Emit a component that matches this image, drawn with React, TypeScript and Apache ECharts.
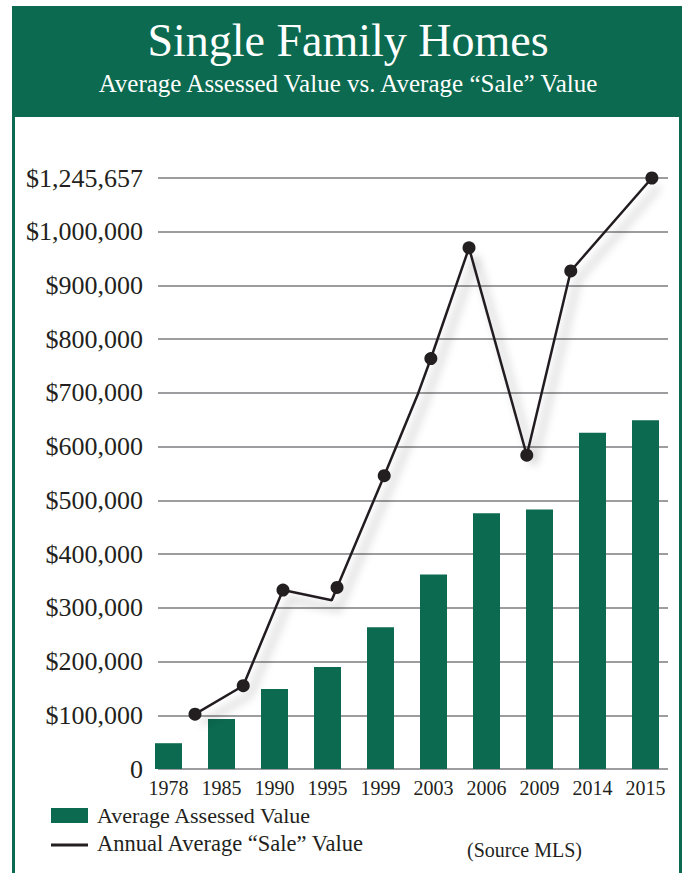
import React, { useEffect, useRef } from "react";
import * as echarts from "echarts";

// ---- data ----
const years = ["1978", "1985", "1990", "1995", "1999", "2003", "2006", "2009", "2014", "2015"];
const assessedValues = [48000, 93000, 149000, 190000, 264000, 362000, 476000, 483000, 626000, 649000];
// Annual average "Sale" value: horizontal slot (in category units) and value
const saleSlots = [0.5, 1.41, 2.16, 3.08, 3.18, 4.07, 4.71, 4.95, 5.67, 6.76, 7.59, 9.12];
const saleValues = [102000, 155000, 333000, 314000, 338000, 546000, 699000, 764000, 970000, 584000, 927000, 1245657];
const saleMarked = [true, true, true, false, true, true, false, true, true, true, true, true];
const topLabelValue = 1245657;

const AXIS_MAX = 1100000;
const AXIS_STEP = 100000;
// the chart compresses the region above $1,000,000 so that the top value sits on the last gridline
const toAxis = (v: number) => (v <= 1000000 ? v : 1000000 + ((v - 1000000) * AXIS_STEP) / (topLabelValue - 1000000));

const GREEN = "#0b6a4f";
const INK = "#231f20";
const SERIF = "'Liberation Serif', 'DejaVu Serif', serif";

export default function App() {
  const ref = useRef<HTMLDivElement>(null);
  useEffect(() => {
    if (!ref.current) return;
    const chart = echarts.init(ref.current, undefined, { renderer: "svg" });
    const fmt = (v: number) => {
      if (v === 0) return "0";
      if (v >= AXIS_MAX) return "$" + topLabelValue.toLocaleString("en-US");
      return "$" + v.toLocaleString("en-US");
    };
    chart.setOption({
      animation: false,
      backgroundColor: "#ffffff",
      textStyle: { fontFamily: SERIF },
      grid: [
        { left: 158, right: 14, top: 178, bottom: 104 },
        { left: 142, right: 10, top: 178, bottom: 104 },
      ],
      xAxis: [
        { gridIndex: 0, type: "value", min: 0, max: 1, show: false },
        {
          gridIndex: 1,
          type: "category",
          data: years,
          axisLine: { show: false },
          axisTick: { show: false },
          splitLine: { show: false },
          axisLabel: { color: INK, fontSize: 20, fontFamily: SERIF, margin: 9, interval: 0 },
        },
        { gridIndex: 1, type: "value", min: -0.5, max: 9.5, show: false },
      ],
      yAxis: [
        {
          gridIndex: 0,
          type: "value",
          min: 0,
          max: AXIS_MAX,
          interval: AXIS_STEP,
          axisLine: { show: false },
          axisTick: { show: false },
          axisLabel: { color: INK, fontSize: 26, fontFamily: SERIF, margin: 15, formatter: fmt },
          splitLine: { show: true, lineStyle: { color: "#9d9d9f", width: 2 } },
        },
        { gridIndex: 1, type: "value", min: 0, max: AXIS_MAX, show: false },
      ],
      series: [
        {
          type: "bar",
          name: "Average Assessed Value",
          xAxisIndex: 1,
          yAxisIndex: 1,
          data: assessedValues,
          barWidth: 27,
          itemStyle: { color: GREEN },
          z: 2,
        },
        {
          type: "line",
          name: "Annual Average \u201cSale\u201d Value",
          xAxisIndex: 2,
          yAxisIndex: 1,
          data: saleSlots.map((s, i) => ({
            value: [s, toAxis(saleValues[i])],
            symbol: saleMarked[i] ? "circle" : "none",
          })),
          symbolSize: 13,
          showAllSymbol: true,
          lineStyle: {
            color: INK,
            width: 2.5,
            shadowColor: "rgba(0,0,0,0.35)",
            shadowBlur: 10,
            shadowOffsetX: 7,
            shadowOffsetY: 9,
          },
          itemStyle: { color: INK, borderWidth: 0 },
          z: 5,
        },
      ],
      graphic: [
        { type: "rect", shape: { x: 12, y: 6, width: 670, height: 111 }, style: { fill: GREEN }, z: 1 },
        { type: "rect", shape: { x: 12, y: 117, width: 3, height: 756 }, style: { fill: GREEN }, z: 1 },
        { type: "rect", shape: { x: 679, y: 117, width: 3, height: 756 }, style: { fill: GREEN }, z: 1 },
        {
          type: "text",
          x: 348,
          y: 40,
          style: {
            text: "Single Family Homes",
            fill: "#ffffff",
            fontSize: 46,
            fontFamily: SERIF,
            textAlign: "center",
            textVerticalAlign: "middle",
          },
          z: 2,
        },
        {
          type: "text",
          x: 348,
          y: 83,
          style: {
            text: "Average Assessed Value vs. Average \u201cSale\u201d Value",
            fill: "#ffffff",
            fontSize: 25,
            fontFamily: SERIF,
            textAlign: "center",
            textVerticalAlign: "middle",
          },
          z: 2,
        },
        { type: "rect", shape: { x: 51, y: 808, width: 37, height: 15 }, style: { fill: GREEN }, z: 2 },
        {
          type: "text",
          x: 97,
          y: 815,
          style: {
            text: "Average Assessed Value",
            fill: INK,
            fontSize: 22,
            fontFamily: SERIF,
            textAlign: "left",
            textVerticalAlign: "middle",
          },
          z: 2,
        },
        {
          type: "line",
          shape: { x1: 51, y1: 845, x2: 88, y2: 845 },
          style: { stroke: INK, lineWidth: 3 },
          z: 2,
        },
        {
          type: "text",
          x: 97,
          y: 843,
          style: {
            text: "Annual Average \u201cSale\u201d Value",
            fill: INK,
            fontSize: 22.5,
            fontFamily: SERIF,
            textAlign: "left",
            textVerticalAlign: "middle",
          },
          z: 2,
        },
        {
          type: "text",
          x: 467,
          y: 850,
          style: {
            text: "(Source MLS)",
            fill: INK,
            fontSize: 20,
            fontFamily: SERIF,
            textAlign: "left",
            textVerticalAlign: "middle",
          },
          z: 2,
        },
      ],
    });
    return () => chart.dispose();
  }, []);
  return (
    <div
      ref={ref}
      style={{ position: "absolute", left: 0, top: 0, width: 682, height: 873, background: "#fff" }}
    />
  );
}
